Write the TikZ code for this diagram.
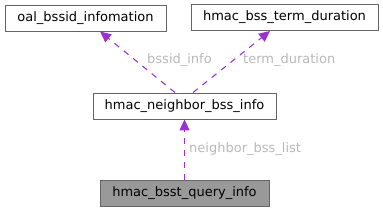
\documentclass[tikz,border=0pt]{standalone}
\usepackage{fontspec}
\setmainfont{DejaVu Sans}
\usetikzlibrary{arrows.meta}
\definecolor{boxline}{HTML}{666666}
\definecolor{boxfill}{HTML}{999999}
\definecolor{linkcolor}{HTML}{9A32CD}
\definecolor{labelcolor}{HTML}{B8B8B8}

\begin{document}
\begin{tikzpicture}[x=1pt,y=-1pt,font=\fontsize{13}{15}\selectfont,
  structbox/.style={draw=boxline,line width=.9pt,fill=white,minimum height=26pt,inner xsep=6pt},
  member/.style={linkcolor,dashed,dash pattern=on 6pt off 6pt,line width=1.1pt,
    -{Triangle[length=11pt,width=10pt]}},
  memberlabel/.style={text=labelcolor,anchor=west,inner sep=0pt}]
  \useasboundingbox (0,0) rectangle (383,212);
  \node[structbox,minimum width=161pt] (oal) at (85.5,18) {oal\_bssid\_infomation};
  \node[structbox,minimum width=187pt] (term) at (284.5,17.5) {hmac\_bss\_term\_duration};
  \node[structbox,minimum width=183pt] (nbr) at (184.5,106) {hmac\_neighbor\_bss\_info};
  \node[structbox,minimum width=169pt,fill=boxfill] (query) at (184.5,193.5) {hmac\_bsst\_query\_info};
  \draw[member] ([xshift=-9.5pt]nbr.north) -- ([xshift=14.5pt]oal.south);
  \draw[member] ([xshift=8.5pt]nbr.north) -- ([xshift=-14.5pt]term.south);
  \draw[member] (query.north) -- (nbr.south);
  \node[memberlabel] (lbssid) at (147,60) {bssid\_info};
  \node[memberlabel] (lterm) at (243,60) {term\_duration};
  \node[memberlabel] (lnbr) at (189,149) {neighbor\_bss\_list};
\end{tikzpicture}
\end{document}
